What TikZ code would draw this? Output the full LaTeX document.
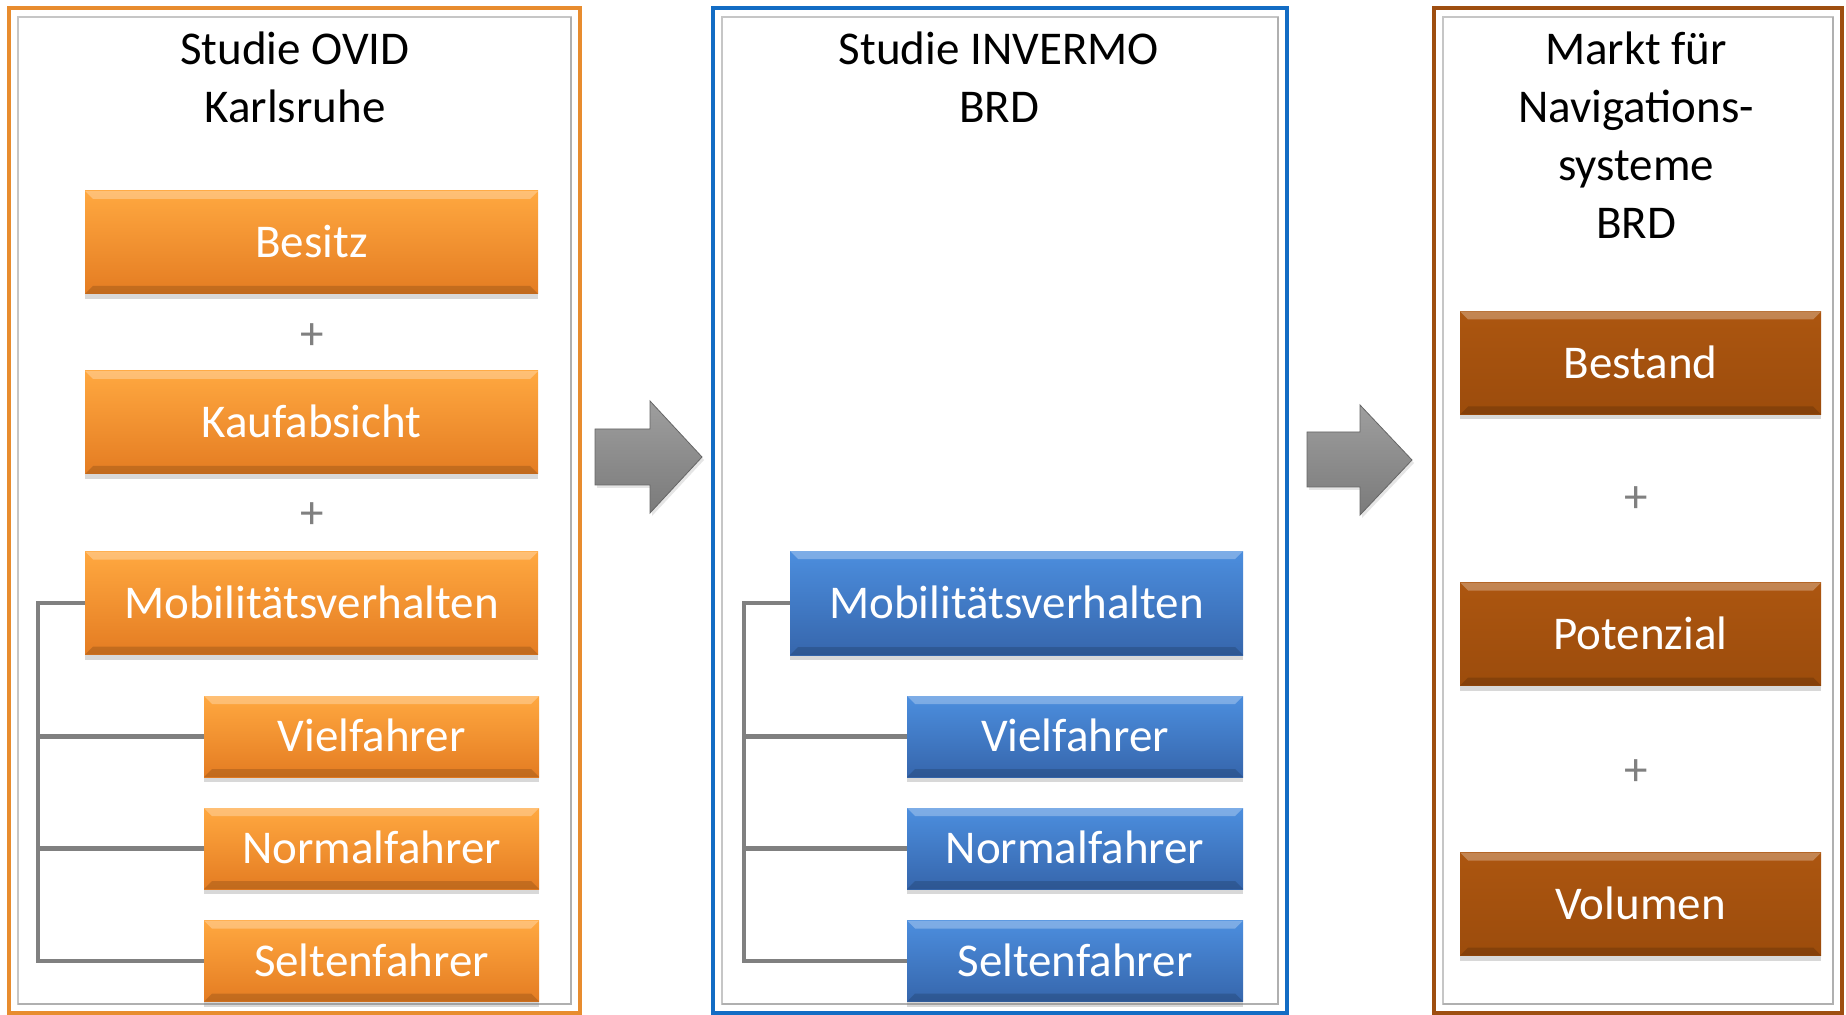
\documentclass[tikz,border=0pt]{standalone}
\usepackage{fontspec}
\setmainfont{Carlito}
\usetikzlibrary{shadows}
\definecolor{orT}{RGB}{255,168,64}
\definecolor{orB}{RGB}{228,124,34}
\definecolor{blT}{RGB}{76,142,222}
\definecolor{blB}{RGB}{54,102,172}
\definecolor{brT}{RGB}{172,86,16}
\definecolor{brB}{RGB}{156,76,12}
\definecolor{orFrame}{RGB}{232,140,46}
\definecolor{blFrame}{RGB}{18,108,196}
\definecolor{brFrame}{RGB}{158,78,16}
\definecolor{lineGray}{RGB}{128,128,128}
\tikzset{
  panelframe/.style={line width=1.7pt},
  innerframe/.style={draw=gray!45,line width=1pt},
  bevel/.style={path picture={
    \fill[white,opacity=.28] (path picture bounding box.north west) -- (path picture bounding box.north east)
      -- ([xshift=-4pt,yshift=-4pt]path picture bounding box.north east) -- ([xshift=4pt,yshift=-4pt]path picture bounding box.north west) -- cycle;
    \fill[black,opacity=.15] (path picture bounding box.south west) -- (path picture bounding box.south east)
      -- ([xshift=-4pt,yshift=4pt]path picture bounding box.south east) -- ([xshift=4pt,yshift=4pt]path picture bounding box.south west) -- cycle;}},
  box/.style={rectangle,inner sep=0pt,text=white,font=\fontsize{23.5pt}{28pt}\selectfont,
    text height=15.1pt,text depth=0pt,bevel,
    drop shadow={opacity=0.3,shadow xshift=0pt,shadow yshift=-2.5pt}},
  obig/.style={box,top color=orT,bottom color=orB,minimum width=226.5pt,minimum height=51.5pt},
  osub/.style={box,top color=orT,bottom color=orB,minimum width=167.5pt,minimum height=40.5pt},
  bbig/.style={box,top color=blT,bottom color=blB,minimum width=226.5pt,minimum height=52pt},
  bsub/.style={box,top color=blT,bottom color=blB,minimum width=168pt,minimum height=40.5pt},
  rbox/.style={box,top color=brT,bottom color=brB,minimum width=180.5pt,minimum height=51.5pt},
  title/.style={anchor=base,inner sep=0pt,font=\fontsize{23.5pt}{29pt}\selectfont},
  plus/.style={inner sep=0pt,text=lineGray,font=\fontsize{23.5pt}{28pt}\selectfont},
  bracket/.style={draw=lineGray,line width=2.3pt},
  blockarrow/.style={top color=black!38,bottom color=black!52,draw=black!60,line width=0.4pt,
    drop shadow={opacity=0.2,shadow xshift=1pt,shadow yshift=-1.5pt}}
}
\begin{document}
\begin{tikzpicture}[x=0.5pt,y=-0.5pt]
\useasboundingbox[fill=white] (0,0) rectangle (1846,1015);

% panel frames
\draw[panelframe,draw=orFrame] (9,8) rectangle (580,1013);
\draw[innerframe] (18,17) rectangle (571,1004);
\draw[gray!62,line width=1.3pt] (571,17) -- (571,1004) -- (18,1004);

\draw[panelframe,draw=blFrame] (713,8) rectangle (1287,1013);
\draw[innerframe] (722,17) rectangle (1278,1004);
\draw[gray!62,line width=1.3pt] (1278,17) -- (1278,1004) -- (722,1004);

\draw[panelframe,draw=brFrame] (1434,8) rectangle (1842,1013);
\draw[innerframe] (1443,17) rectangle (1833,1004);
\draw[gray!62,line width=1.3pt] (1833,17) -- (1833,1004) -- (1443,1004);

% titles
\node[title] (t1a) at (295,65) {Studie OVID};
\node[title] (t1b) at (295,123) {Karlsruhe};
\node[title] (t2a) at (999,65) {Studie INVERMO};
\node[title] (t2b) at (999,123) {BRD};
\node[title] (t3a) at (1636,65) {Markt für};
\node[title] (t3b) at (1636,123) {Navigations-};
\node[title] (t3c) at (1636,181) {systeme};
\node[title] (t3d) at (1636,239) {BRD};

% bracket coordinates
\coordinate (brL) at (38,0);
\coordinate (brM) at (744,0);

% left panel
\node[obig] (besitz) at (311.5,242.5) {Besitz};
\node[plus] (p1) at (312,337) {+};
\node[obig] (kauf) at (311.5,422.5) {Kaufabsicht};
\node[plus] (p2) at (312,516) {+};
\node[obig] (mobL) at (311.5,603) {Mobilitätsverhalten};
\node[osub] (vielL) at (371.5,736.5) {Vielfahrer};
\node[osub] (normL) at (371.5,848.5) {Normalfahrer};
\node[osub] (seltL) at (371.5,961) {Seltenfahrer};

% middle panel
\node[bbig] (mobM) at (1016.5,603) {Mobilitätsverhalten};
\node[bsub] (vielM) at (1075,736.5) {Vielfahrer};
\node[bsub] (normM) at (1075,848.5) {Normalfahrer};
\node[bsub] (seltM) at (1075,961) {Seltenfahrer};

% right panel
\node[rbox] (bestand) at (1640.5,363) {Bestand};
\node[plus] (p3) at (1636,500) {+};
\node[rbox] (potenzial) at (1640.5,634) {Potenzial};
\node[plus] (p4) at (1636,773) {+};
\node[rbox] (volumen) at (1640.5,904) {Volumen};

% bracket connectors
\draw[bracket] (mobL.west) -| (seltL.west -| brL) -- (seltL.west);
\draw[bracket] (vielL.west -| brL) -- (vielL.west);
\draw[bracket] (normL.west -| brL) -- (normL.west);
\draw[bracket] (mobM.west) -| (seltM.west -| brM) -- (seltM.west);
\draw[bracket] (vielM.west -| brM) -- (vielM.west);
\draw[bracket] (normM.west -| brM) -- (normM.west);

% block arrows
\path[blockarrow] (595,429) -- (650,429) -- (650,401) -- (702,457) -- (650,513) -- (650,485) -- (595,485) -- cycle;
\path[blockarrow] (1307,432) -- (1360,432) -- (1360,405) -- (1412,460) -- (1360,515) -- (1360,487) -- (1307,487) -- cycle;
\end{tikzpicture}
\end{document}
